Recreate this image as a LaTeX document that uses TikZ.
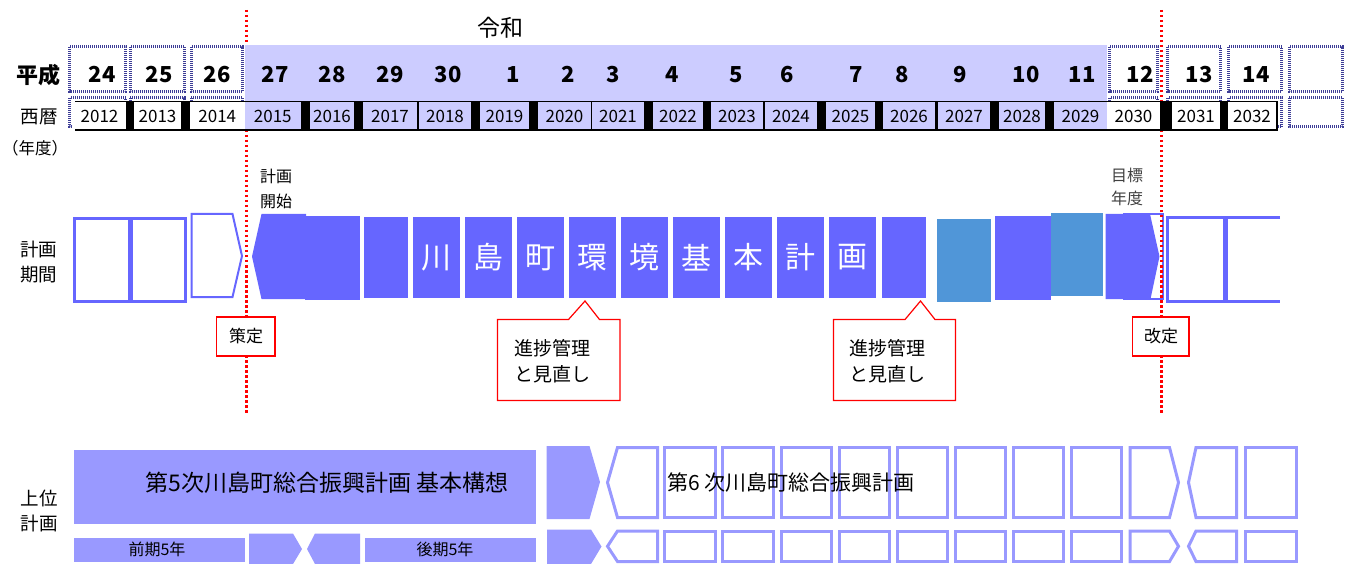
\documentclass[tikz,border=0pt]{standalone}
\usepackage{fontspec}
\setmainfont{Noto Sans CJK JP}
\definecolor{reiwa}{HTML}{CCCCFF}
\definecolor{plan}{HTML}{6666FF}
\definecolor{planb}{HTML}{5096D8}
\definecolor{upper}{HTML}{9999FF}
\definecolor{hatch}{HTML}{3C3C96}
\tikzset{
  hatchbox/.style={draw=hatch, line width=3pt, dash pattern=on 1pt off 1pt},
  openbox/.style={draw=plan, line width=3pt},
  upbox/.style={draw=upper, line width=3pt},
  redmark/.style={draw=red, fill=white, line width=1.2pt},
  cutline/.style={red, line width=2.5pt, dash pattern=on 2.5pt off 2.5pt},
  sidelab/.style={font=\fontsize{18.5}{25}\selectfont, align=center, inner sep=0pt},
  eralab/.style={font=\fontsize{22}{22}\selectfont\bfseries, inner sep=0pt, anchor=base},
  yearlab/.style={font=\fontsize{17}{17}\selectfont, inner sep=0pt, anchor=base},
  marklab/.style={font=\fontsize{19}{26}\selectfont, inner sep=0pt},
}
\begin{document}
\begin{tikzpicture}[x=1pt,y=-1pt]
    \useasboundingbox (0,0) rectangle (1352,564);
    %% plan period, old plan
    \draw[openbox] (74.5,218.5) rectangle (129,301.5);
    \draw[openbox] (131,218.5) rectangle (185.5,301.5);
    \draw[plan, line width=2pt] (191.5,214) -- (232.5,214) -- (242,256) -- (232.5,297) -- (191.5,297) -- cycle;
    %% plan period, this plan
    \fill[plan] (252,256.5) -- (261.5,214) -- (306,214) -- (306,299) -- (261.5,299) -- cycle;
    \fill[plan] (305,216.5) rectangle (360,300);
    \fill[plan] (364,217.5) rectangle (408,297.5);
    \foreach \ch [count=\i from 0] in {川,島,町,環,境,基,本,計,画} {
        \fill[plan] (413+52*\i,217.5) rectangle ++(47,80);
        \node[white, font=\fontsize{30}{30}\selectfont, inner sep=0pt] (ch\i) at (436.5+52*\i,257.5) {\ch};
    }
    \fill[plan] (882,217.5) rectangle (926,297.5);
    \fill[planb] (937,219) rectangle (991,301.5);
    \fill[plan] (995,216) rectangle (1051,300);
    \fill[planb] (1051,213.5) rectangle (1103,296);
    \draw[plan, line width=2pt] (1123,214) -- (1163,214) -- (1163,299) -- (1123,299);
    \fill[plan] (1105.5,214) -- (1150,214) -- (1159.5,256.5) -- (1150.5,299) -- (1105.5,299) -- cycle;
    %% plan period, next plan
    \draw[openbox] (1167,217.5) rectangle (1224,301.5);
    \draw[openbox] (1280,217.5) -| (1226,301.5) -- (1280,301.5);
    %% start and revision lines
    \coordinate (s1) at (246.5,10);
    \coordinate (e1) at (246.5,413);
    \coordinate (s2) at (1161.5,10);
    \coordinate (e2) at (1161.5,413);
    \draw[cutline] (s1) -- (e1);
    \draw[cutline] (s2) -- (e2);
    %% era row and year row
    \fill[reiwa] (245,45) rectangle (1107,131);
    \foreach \l/\r in {68/127, 128.5/186, 189.5/244, 1108/1159, 1166/1222, 1227/1283, 1287.5/1344}
        \draw[hatchbox] (\l+1.5,98) rectangle (\r-1.5,127);
    \fill (75,101) rectangle (1278,131.5);
    \foreach \l/\r/\yr/\c in {73/126/2012/white, 134/181/2013/white, 190/244.5/2014/white,
        244.5/301/2015/reiwa, 310/354/2016/reiwa, 363/417/2017/reiwa, 419/471/2018/reiwa,
        480/529/2019/reiwa, 538/591/2020/reiwa, 592/644/2021/reiwa, 653/703/2022/reiwa,
        711/763/2023/reiwa, 765/817/2024/reiwa, 826/875/2025/reiwa, 883/935/2026/reiwa,
        938/990/2027/reiwa, 999/1045/2028/reiwa, 1054/1107/2029/reiwa, 1107/1160/2030/white,
        1172/1220/2031/white, 1228/1276/2032/white} {
        \fill[\c] (\l,102.5) rectangle (\r,129.5);
        \node[yearlab] (y\yr) at ({(\l+\r)/2},122.8) {\yr};
    }
    \foreach \l/\r in {68/127, 128.5/186, 189.5/244, 1108/1159, 1166/1222, 1227/1283, 1287.5/1344}
        \draw[hatchbox] (\l+1.5,47) rectangle (\r-1.5,91.5);
    \draw[hatchbox] (1289,98) rectangle (1342.5,127);
    \foreach \x/\n in {102/24, 159/25, 217/26, 275/27, 332/28, 390/29, 448/30, 513/1, 568/2,
        613/3, 672/4, 736/5, 787/6, 856/7, 902/8, 960/9, 1026/10, 1082/11, 1140/12, 1199/13, 1256/14}
        \node[eralab] (h\n) at (\x,83) {\n};
    \node[font=\fontsize{23}{23}\selectfont, inner sep=0pt] (reiwa) at (500,28) {令和};
    %% row labels
    \node[font=\fontsize{22}{22}\selectfont\bfseries, inner sep=0pt] (heisei) at (38.5,75) {平成};
    \node[font=\fontsize{18.5}{18.5}\selectfont, inner sep=0pt] (seireki) at (39,116.5) {西暦};
    \node[font=\fontsize{16.5}{16.5}\selectfont, inner sep=0pt] (nendo) at (35,148) {（年度）};
    \node[sidelab] (kikan) at (38.5,262.5) {計画\\期間};
    \node[sidelab] (joui) at (39,510.5) {上位\\計画};
    \node[sidelab, font=\fontsize{16}{25}\selectfont] (kaishi) at (276,189) {計画\\開始};
    \node[sidelab, font=\fontsize{16}{23}\selectfont, text=black!75] (mokuhyo) at (1127,186.5) {目標\\年度};
    %% callouts
    \draw[redmark] (216.5,317) rectangle (275,356);
    \node[marklab, font=\fontsize{17}{17}\selectfont] (sakutei) at (246,336.5) {策定};
    \draw[redmark] (1132.5,317) rectangle (1189,356);
    \node[marklab, font=\fontsize{17}{17}\selectfont] (kaitei) at (1161,336.5) {改定};
    \draw[redmark] (497.5,319.5) -- (568.5,319.5) -- (585,301) -- (599.5,319.5) -- (620,319.5) -- (620,400.5) -- (497.5,400.5) -- cycle;
    \node[marklab, align=left, anchor=west] (review1) at (514,361) {進捗管理\\と見直し};
    \draw[redmark] (833.5,319.5) -- (905,319.5) -- (920.5,301) -- (935,319.5) -- (955.5,319.5) -- (955.5,400.5) -- (833.5,400.5) -- cycle;
    \node[marklab, align=left, anchor=west] (review2) at (849,361) {進捗管理\\と見直し};
    %% upper plans
    \fill[upper] (73.5,449.5) rectangle (535.5,523.5);
    \node[font=\fontsize{23}{23}\selectfont, inner sep=0pt] (dai5) at (327,483) {第5次川島町総合振興計画 基本構想};
    \fill[upper] (73.5,537.5) rectangle (244.5,562);
    \node[font=\fontsize{16}{16}\selectfont, inner sep=0pt] (zenki) at (157,549.5) {前期5年};
    \fill[upper] (249,533.5) -- (293,533.5) -- (302,549) -- (293,564) -- (249,564) -- cycle;
    \fill[upper] (307,549) -- (315,533.5) -- (360,533.5) -- (360,564) -- (315,564) -- cycle;
    \fill[upper] (364.5,538) rectangle (535.5,562);
    \node[font=\fontsize{16}{16}\selectfont, inner sep=0pt] (kouki) at (445,549.5) {後期5年};
    \fill[upper] (546.5,446) -- (589.5,446) -- (600,482) -- (589.5,519) -- (546.5,519) -- cycle;
    \fill[upper] (547,529.5) -- (591,529.5) -- (601.5,546.5) -- (591,564) -- (547,564) -- cycle;
    \foreach \t/\b/\m in {447.5/517.5/482.5, 531/561.5/546.25} {
        \draw[upbox] (607.5,\m) -- (617.5,\t) -- (657.5,\t) -- (657.5,\b) -- (617.5,\b) -- cycle;
        \foreach \i in {0,...,7}
            \draw[upbox] (664.9+58.08*\i,\t) rectangle ++(50.5,\b-\t);
        \draw[upbox] (1130,\t) -- (1169.5,\t) -- (1178.5,\m) -- (1169.5,\b) -- (1130,\b) -- cycle;
        \draw[upbox] (1188.5,\m) -- (1196,\t) -- (1236.5,\t) -- (1236.5,\b) -- (1196,\b) -- cycle;
        \draw[upbox] (1245.7,\t) rectangle (1296.3,\b);
    }
    \node[font=\fontsize{21}{21}\selectfont, inner sep=0pt] (dai6) at (791,483) {第6 次川島町総合振興計画};
\end{tikzpicture}
\end{document}
